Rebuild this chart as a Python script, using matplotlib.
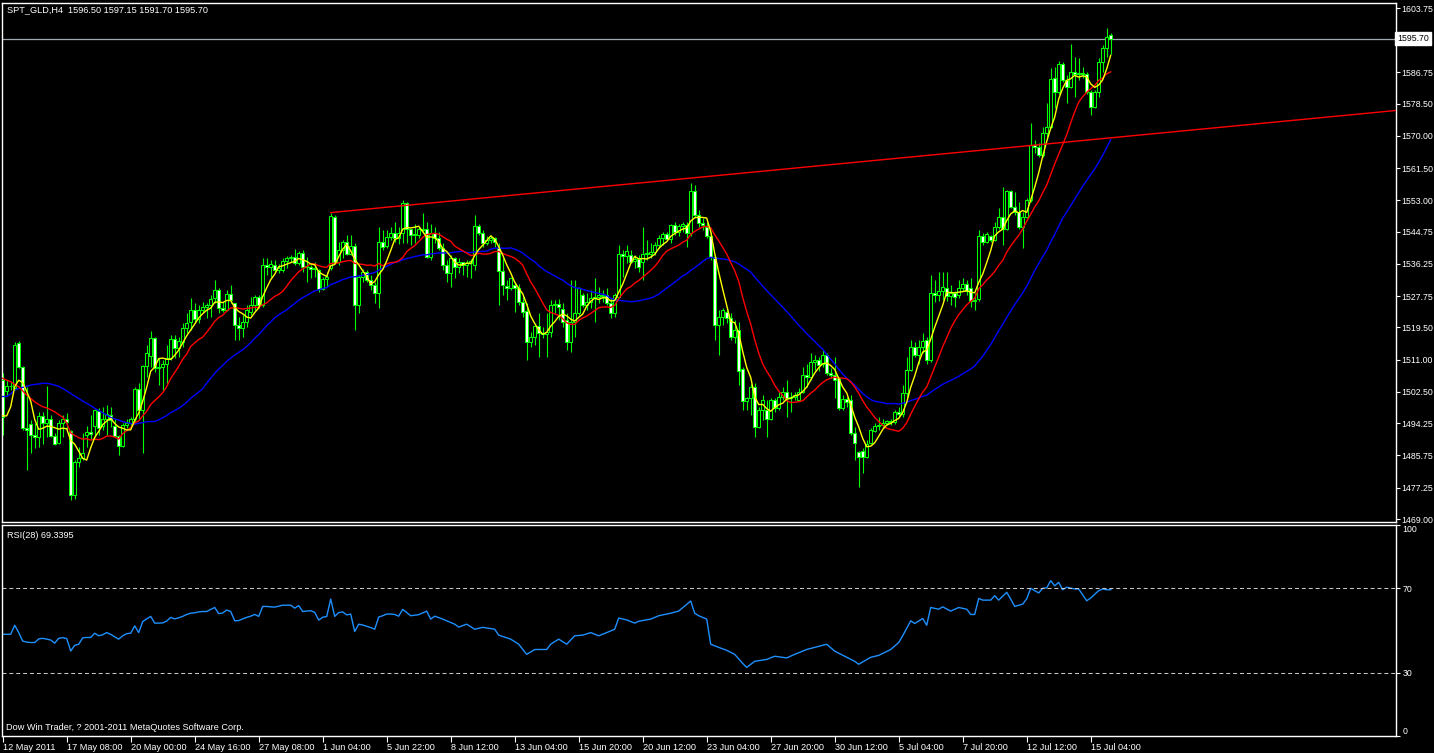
import numpy as np
import matplotlib.pyplot as plt

plt.rcParams['font.family'] = ['Liberation Sans', 'DejaVu Sans']

# SPT_GLD H4 candles, 12 May - 15 Jul 2011
opens = [
    1505.6, 1502.8, 1504.1, 1503.5, 1515.3, 1509.0, 1492.9, 1494.0, 1491.1, 1490.7,
    1496.1, 1494.2, 1495.5, 1490.9, 1489.1, 1494.2, 1495.5, 1492.3, 1475.3, 1484.1,
    1485.0, 1491.1, 1492.0, 1493.4, 1497.5, 1493.4, 1495.3, 1496.5, 1493.5, 1490.9,
    1488.3, 1493.7, 1494.4, 1495.5, 1503.4, 1497.7, 1509.3, 1512.0, 1516.6, 1508.7,
    1509.0, 1510.0, 1511.4, 1516.4, 1514.0, 1515.8, 1519.3, 1521.0, 1524.1, 1521.8,
    1524.0, 1525.0, 1525.4, 1527.2, 1529.4, 1524.6, 1524.0, 1528.3, 1525.9, 1520.2,
    1519.3, 1521.0, 1523.5, 1525.4, 1527.5, 1525.4, 1535.9, 1535.5, 1536.0, 1534.7,
    1534.7, 1537.1, 1537.7, 1538.2, 1536.4, 1539.1, 1535.4, 1535.4, 1534.8, 1534.7,
    1529.6, 1532.2, 1535.1, 1548.6, 1536.9, 1539.9, 1542.1, 1539.0, 1540.9, 1525.4,
    1532.9, 1534.1, 1531.9, 1530.6, 1528.5, 1542.1, 1541.0, 1543.3, 1544.3, 1543.0,
    1544.3, 1552.2, 1545.4, 1543.9, 1543.9, 1545.6, 1545.4, 1538.0, 1544.3, 1543.0,
    1540.4, 1536.0, 1534.0, 1537.7, 1535.5, 1536.8, 1536.0, 1536.5, 1536.0, 1546.3,
    1544.5, 1541.7, 1542.6, 1543.2, 1540.4, 1534.5, 1530.4, 1529.8, 1530.7, 1530.0,
    1526.3, 1523.9, 1515.8, 1517.1, 1519.9, 1518.0, 1517.8, 1518.2, 1525.4, 1525.7,
    1524.5, 1521.5, 1515.8, 1521.0, 1523.2, 1528.1, 1525.4, 1526.3, 1527.2, 1527.5,
    1528.0, 1528.0, 1525.9, 1523.2, 1527.6, 1538.9, 1538.4, 1538.6, 1537.0, 1537.5,
    1536.9, 1538.9, 1539.0, 1539.3, 1541.2, 1543.0, 1544.2, 1542.8, 1546.5, 1544.8,
    1546.3, 1546.6, 1544.3, 1555.6, 1549.2, 1547.0, 1546.1, 1543.5, 1538.0, 1520.2,
    1522.2, 1523.7, 1521.9, 1516.9, 1518.8, 1508.5, 1500.2, 1500.8, 1503.9, 1493.3,
    1497.7, 1497.7, 1495.3, 1500.4, 1498.2, 1501.3, 1502.5, 1500.8, 1501.2, 1500.5,
    1502.6, 1507.0, 1506.5, 1510.5, 1510.8, 1510.0, 1512.2, 1507.6, 1507.0, 1506.1,
    1498.2, 1500.6, 1500.4, 1491.8, 1486.8, 1487.0, 1485.3, 1489.0, 1492.3, 1493.5,
    1493.8, 1494.4, 1494.8, 1494.5, 1497.3, 1496.6, 1502.1, 1508.3, 1514.3, 1512.2,
    1514.3, 1516.2, 1510.9, 1528.5, 1528.1, 1529.0, 1530.0, 1527.8, 1528.5, 1528.0,
    1530.0, 1531.0, 1529.8, 1526.5, 1527.0, 1543.5, 1542.1, 1543.5, 1542.6, 1546.1,
    1548.7, 1545.6, 1555.5, 1551.4, 1550.0, 1546.1, 1548.7, 1553.1, 1567.6, 1567.0,
    1565.0, 1570.7, 1572.5, 1585.2, 1581.7, 1588.9, 1584.8, 1583.0, 1587.0, 1586.3,
    1586.6, 1586.4, 1581.7, 1577.7, 1581.7, 1589.6, 1593.3, 1596.5]
highs = [
    1507.4, 1505.6, 1505.0, 1515.8, 1516.0, 1509.3, 1503.9, 1495.1, 1494.2, 1497.3,
    1497.3, 1504.1, 1496.4, 1491.6, 1495.1, 1496.4, 1496.9, 1492.5, 1484.5, 1488.1,
    1491.6, 1493.4, 1496.4, 1498.0, 1498.2, 1498.6, 1499.0, 1498.6, 1495.3, 1491.2,
    1494.2, 1495.5, 1496.0, 1503.9, 1504.8, 1509.6, 1514.9, 1518.7, 1517.1, 1511.4,
    1510.9, 1514.9, 1517.5, 1517.5, 1517.1, 1520.6, 1523.2, 1527.2, 1525.9, 1525.4,
    1526.3, 1525.9, 1528.1, 1532.0, 1529.8, 1526.3, 1529.4, 1530.7, 1526.0, 1522.4,
    1522.8, 1525.4, 1527.6, 1528.1, 1528.1, 1537.7, 1537.7, 1537.3, 1537.3, 1536.2,
    1537.7, 1538.4, 1538.6, 1540.1, 1539.8, 1539.9, 1538.2, 1536.0, 1536.9, 1534.9,
    1532.9, 1534.2, 1549.8, 1549.2, 1542.1, 1542.6, 1543.9, 1543.9, 1541.7, 1533.3,
    1534.8, 1534.7, 1533.3, 1531.5, 1546.1, 1545.2, 1545.2, 1546.1, 1547.4, 1546.0,
    1553.1, 1552.7, 1545.6, 1546.9, 1546.1, 1549.6, 1547.4, 1546.9, 1546.1, 1544.8,
    1541.7, 1537.3, 1538.6, 1538.2, 1537.7, 1536.9, 1537.3, 1537.5, 1549.2, 1546.9,
    1545.2, 1543.5, 1543.9, 1543.4, 1541.7, 1537.7, 1532.0, 1532.9, 1531.6, 1531.1,
    1528.1, 1525.9, 1518.4, 1520.6, 1523.2, 1519.7, 1523.2, 1526.7, 1526.7, 1526.9,
    1526.0, 1523.2, 1532.0, 1532.0, 1530.3, 1528.5, 1528.5, 1529.4, 1532.5, 1530.3,
    1529.4, 1529.8, 1527.2, 1528.5, 1541.2, 1539.9, 1541.2, 1539.9, 1538.6, 1538.6,
    1546.1, 1542.6, 1541.7, 1542.1, 1543.9, 1544.8, 1544.8, 1546.9, 1547.4, 1546.9,
    1547.4, 1547.4, 1557.5, 1557.1, 1550.5, 1548.3, 1547.4, 1544.8, 1538.6, 1524.1,
    1524.6, 1525.0, 1523.2, 1521.5, 1521.0, 1509.2, 1501.2, 1504.5, 1504.8, 1498.6,
    1501.7, 1500.4, 1500.8, 1500.8, 1502.6, 1503.9, 1505.7, 1502.6, 1502.6, 1503.5,
    1509.2, 1510.0, 1512.7, 1512.2, 1511.8, 1513.6, 1512.7, 1508.7, 1511.8, 1506.5,
    1501.7, 1501.3, 1501.7, 1493.3, 1487.0, 1487.6, 1489.8, 1492.9, 1494.2, 1496.0,
    1495.5, 1495.1, 1495.3, 1497.7, 1498.6, 1504.3, 1511.8, 1516.2, 1515.8, 1516.2,
    1518.0, 1517.1, 1533.3, 1532.0, 1534.2, 1534.2, 1534.2, 1530.7, 1529.0, 1532.0,
    1532.5, 1532.0, 1532.5, 1528.5, 1545.2, 1544.3, 1544.6, 1543.9, 1547.4, 1550.9,
    1556.6, 1555.8, 1555.8, 1555.3, 1552.7, 1550.0, 1553.6, 1573.3, 1568.9, 1568.1,
    1572.5, 1578.6, 1587.8, 1588.3, 1589.8, 1589.6, 1586.1, 1594.2, 1590.9, 1590.5,
    1588.3, 1587.0, 1582.1, 1582.1, 1590.5, 1594.0, 1598.4, 1597.15]
lows = [
    1491.1, 1501.7, 1503.0, 1503.0, 1508.7, 1492.5, 1481.9, 1486.3, 1487.6, 1488.1,
    1488.9, 1490.7, 1490.7, 1488.5, 1488.9, 1490.7, 1492.5, 1474.0, 1474.4, 1482.8,
    1484.5, 1488.1, 1489.8, 1490.7, 1491.1, 1492.5, 1491.1, 1493.3, 1490.7, 1485.9,
    1488.1, 1492.9, 1493.3, 1494.2, 1495.1, 1486.3, 1506.5, 1509.2, 1507.8, 1504.3,
    1503.0, 1504.8, 1510.9, 1511.4, 1511.8, 1514.4, 1518.0, 1518.8, 1520.6, 1520.6,
    1523.2, 1521.9, 1522.4, 1525.9, 1523.2, 1523.7, 1523.8, 1525.9, 1516.2, 1516.2,
    1517.1, 1519.7, 1522.8, 1524.1, 1524.6, 1525.0, 1533.3, 1532.9, 1534.2, 1533.8,
    1534.2, 1535.1, 1536.9, 1536.0, 1536.0, 1534.2, 1531.6, 1532.5, 1532.9, 1528.9,
    1529.4, 1530.3, 1534.7, 1536.4, 1536.0, 1537.7, 1538.6, 1538.6, 1518.8, 1523.2,
    1531.6, 1531.6, 1529.4, 1526.0, 1524.6, 1539.9, 1540.5, 1542.6, 1542.1, 1541.5,
    1541.7, 1541.7, 1541.3, 1541.7, 1543.0, 1544.3, 1537.7, 1537.3, 1541.7, 1539.9,
    1534.7, 1531.6, 1530.3, 1532.5, 1533.8, 1533.3, 1532.9, 1532.5, 1534.7, 1543.9,
    1540.8, 1541.3, 1541.7, 1540.8, 1525.4, 1528.1, 1526.7, 1529.4, 1523.7, 1525.4,
    1522.4, 1510.9, 1514.4, 1514.9, 1511.8, 1516.6, 1511.8, 1517.1, 1523.2, 1521.5,
    1519.7, 1513.6, 1513.1, 1517.1, 1522.8, 1525.0, 1524.1, 1524.6, 1521.0, 1525.9,
    1526.3, 1525.4, 1521.9, 1522.4, 1527.2, 1532.9, 1536.4, 1536.4, 1535.1, 1534.2,
    1532.0, 1537.3, 1537.7, 1538.6, 1540.4, 1541.2, 1542.6, 1541.7, 1543.9, 1543.5,
    1544.8, 1540.8, 1543.5, 1548.7, 1546.1, 1545.2, 1543.0, 1537.3, 1516.2, 1512.3,
    1520.2, 1520.6, 1516.2, 1515.3, 1504.3, 1497.8, 1497.8, 1496.5, 1490.7, 1492.9,
    1495.0, 1490.7, 1495.1, 1497.3, 1497.7, 1500.4, 1496.0, 1497.3, 1500.4, 1500.4,
    1502.1, 1503.9, 1505.7, 1508.3, 1507.9, 1509.2, 1507.0, 1506.1, 1500.8, 1497.7,
    1497.7, 1498.6, 1491.2, 1484.6, 1477.5, 1481.0, 1485.0, 1488.8, 1492.0, 1492.5,
    1492.9, 1493.8, 1493.8, 1494.1, 1496.0, 1496.0, 1501.3, 1507.9, 1511.8, 1510.0,
    1512.7, 1510.0, 1510.5, 1526.3, 1526.5, 1526.8, 1526.5, 1525.5, 1524.8, 1527.2,
    1529.0, 1528.1, 1525.0, 1524.0, 1526.5, 1541.3, 1541.7, 1542.1, 1542.3, 1545.6,
    1541.3, 1545.2, 1550.9, 1549.2, 1545.6, 1540.4, 1548.5, 1552.7, 1565.4, 1564.5,
    1564.5, 1569.8, 1572.0, 1577.3, 1581.2, 1584.3, 1578.6, 1582.6, 1580.4, 1584.8,
    1585.2, 1581.2, 1575.5, 1577.3, 1580.4, 1587.0, 1590.9, 1591.70]
closes = [
    1496.0, 1504.1, 1504.0, 1514.9, 1509.0, 1492.9, 1492.5, 1491.1, 1490.7, 1496.1,
    1494.2, 1495.3, 1490.9, 1488.9, 1494.2, 1495.5, 1494.5, 1475.3, 1484.1, 1485.0,
    1486.3, 1492.0, 1491.5, 1497.7, 1492.9, 1495.3, 1496.7, 1495.1, 1490.9, 1488.3,
    1493.7, 1494.4, 1495.3, 1503.4, 1497.7, 1509.3, 1512.9, 1516.6, 1508.7, 1509.0,
    1510.0, 1511.4, 1516.4, 1514.0, 1516.0, 1519.3, 1520.8, 1524.1, 1521.8, 1524.0,
    1525.0, 1525.4, 1526.9, 1529.4, 1524.6, 1524.0, 1528.3, 1526.8, 1520.2, 1519.3,
    1521.0, 1524.0, 1525.4, 1527.5, 1525.4, 1535.9, 1535.5, 1536.2, 1534.7, 1535.3,
    1537.1, 1537.7, 1538.2, 1536.4, 1539.1, 1535.4, 1535.6, 1534.8, 1535.3, 1529.6,
    1532.2, 1532.9, 1548.9, 1536.9, 1539.9, 1542.1, 1539.0, 1540.9, 1525.4, 1532.9,
    1534.1, 1531.9, 1530.6, 1528.5, 1542.1, 1540.8, 1543.3, 1544.3, 1543.0, 1544.3,
    1552.2, 1545.4, 1543.9, 1543.9, 1545.6, 1545.2, 1538.0, 1544.3, 1543.0, 1540.4,
    1536.0, 1534.0, 1537.7, 1535.5, 1536.8, 1536.0, 1536.5, 1537.0, 1546.3, 1544.5,
    1541.7, 1542.6, 1543.2, 1542.0, 1534.5, 1530.7, 1529.8, 1532.5, 1529.8, 1526.3,
    1523.7, 1515.8, 1517.1, 1519.9, 1518.0, 1517.8, 1518.2, 1525.4, 1525.7, 1525.0,
    1521.0, 1515.8, 1521.0, 1523.2, 1529.8, 1525.4, 1526.3, 1527.2, 1527.5, 1528.0,
    1527.8, 1526.0, 1523.2, 1528.1, 1538.9, 1538.4, 1539.6, 1536.9, 1537.5, 1535.5,
    1538.9, 1539.0, 1539.4, 1541.2, 1543.0, 1544.2, 1542.8, 1546.5, 1544.8, 1546.3,
    1546.8, 1544.3, 1555.6, 1549.2, 1547.0, 1546.5, 1543.5, 1538.0, 1520.2, 1522.2,
    1524.1, 1521.9, 1516.9, 1518.8, 1508.1, 1500.2, 1500.8, 1503.9, 1493.3, 1497.7,
    1500.4, 1495.3, 1500.4, 1498.2, 1501.3, 1502.5, 1500.8, 1501.2, 1501.6, 1502.6,
    1507.0, 1506.5, 1510.5, 1510.8, 1509.7, 1512.2, 1507.6, 1507.0, 1505.6, 1498.2,
    1500.6, 1499.8, 1491.8, 1489.0, 1485.3, 1485.3, 1488.9, 1492.5, 1493.5, 1493.8,
    1494.4, 1494.8, 1494.5, 1497.3, 1496.6, 1502.1, 1508.3, 1514.3, 1512.2, 1514.3,
    1516.0, 1510.9, 1528.5, 1528.1, 1529.0, 1530.3, 1527.8, 1528.5, 1527.5, 1530.0,
    1531.0, 1529.0, 1526.5, 1526.8, 1543.5, 1542.1, 1544.1, 1542.6, 1546.1, 1548.7,
    1545.6, 1555.5, 1551.4, 1550.0, 1546.1, 1548.7, 1553.1, 1567.6, 1567.0, 1565.0,
    1570.7, 1572.5, 1585.0, 1581.7, 1588.9, 1584.8, 1583.0, 1587.0, 1586.3, 1586.6,
    1586.4, 1581.7, 1577.7, 1581.7, 1589.6, 1593.3, 1596.2, 1595.7]

# moving averages at the left edge (their windows reach back before the first bar)
yellow_start = [1496.2, 1496.2, 1498.6, 1503.9]
red_start = [1506.1, 1505.6, 1505.2, 1504.5, 1503.9, 1502.8, 1501.7, 1500.8, 1499.9,
             1499.2, 1498.6, 1498.3]
blue_start = [1501.3, 1501.3, 1502.0, 1503.0, 1503.4, 1503.7, 1504.0, 1504.3, 1504.5,
              1504.6, 1504.8, 1504.8, 1504.6, 1504.3, 1504.0, 1503.4, 1502.8, 1502.1,
              1501.4, 1500.8, 1500.1, 1499.5, 1498.9, 1498.2, 1497.6, 1497.0, 1496.4,
              1495.8, 1495.4, 1495.1, 1494.7, 1494.4, 1494.2, 1494.0]

# RSI(28): bar index -> value
rsi_bars = list(range(0, 100)) + [
    100, 102, 104, 106, 107, 108, 110, 113, 114, 116, 118, 120, 123, 124, 127, 129,
    131, 133, 136, 137, 139, 141, 143, 145, 147, 149, 151, 153, 154, 156, 158, 159,
    162, 164, 167, 169, 172, 173, 174, 176, 177, 179, 181, 183, 185, 186, 188, 191,
    193, 196, 198, 201, 203, 206, 208, 211, 213, 214, 217, 219, 222, 224, 225, 226,
    227, 228, 230, 231, 232, 234, 235, 237, 239, 241, 242, 243, 244, 245, 247, 248,
    249, 251, 252, 253, 255, 256, 257, 259, 260, 261, 262, 263, 264, 265, 266, 268,
    269, 271, 272, 274, 275, 276, 277]
rsi_vals = [
    48.2, 48.2, 48.2, 52.5, 49.0, 45.0, 44.5, 44.3, 44.3, 46.0,
    46.3, 45.9, 45.5, 44.0, 46.3, 46.6, 46.2, 40.3, 43.0, 43.5,
    46.5, 46.7, 46.7, 48.7, 47.5, 48.0, 49.0, 48.2, 47.0, 45.9,
    47.5, 48.5, 48.7, 52.2, 49.0, 54.2, 55.5, 56.7, 53.5, 53.5,
    53.6, 54.5, 56.2, 55.5, 56.0, 56.7, 57.6, 58.2, 58.4, 58.8,
    59.0, 59.0, 60.0, 60.9, 58.0, 58.3, 59.7, 59.0, 54.6, 54.7,
    55.5, 56.2, 56.8, 57.6, 56.7, 61.4, 61.4, 61.2, 61.1, 61.5,
    62.0, 62.0, 62.0, 60.6, 61.8, 59.0, 59.2, 59.4, 58.6, 54.9,
    56.3, 56.6, 64.9, 56.7, 58.5, 58.8, 57.4, 57.8, 49.5, 53.0,
    52.6, 52.0, 51.4, 50.6, 56.4, 57.0, 57.8, 57.8, 57.6, 56.8,
    60.0, 57.0, 57.5, 59.2, 55.4, 56.8, 55.4, 53.0, 51.6, 53.0, 50.6, 51.5, 50.6, 47.8, 45.9, 43.5,
    38.7, 41.0, 41.0, 43.5, 45.9, 43.5, 47.5, 47.8, 49.0, 47.5, 49.0, 50.6, 55.9, 55.0, 53.5, 54.4,
    55.4, 57.0, 58.2, 59.2, 64.0, 58.2, 57.0, 55.4, 43.5, 42.0, 40.6, 38.7, 34.4, 32.5, 35.4, 36.3,
    37.8, 37.0, 38.7, 41.0, 42.0, 43.5, 40.2, 37.3, 35.4, 34.0, 37.3, 38.2, 41.0, 44.3, 47.5, 51.0,
    54.6, 53.3, 55.7, 52.5, 60.9, 60.1, 61.2, 59.2, 60.9, 60.1, 57.6, 57.6, 65.2, 64.4, 64.4, 66.5,
    64.4, 68.1, 64.9, 61.4, 62.5, 65.0, 70.0, 67.8, 70.0, 70.2, 73.6, 71.2, 72.8, 69.3, 70.5, 69.7,
    69.7, 64.1, 65.4, 68.9, 69.7, 69.3, 69.34]

price_ticks = [1469.00, 1477.25, 1485.75, 1494.25, 1502.50, 1511.00, 1519.50, 1527.75,
               1536.25, 1544.75, 1553.00, 1561.50, 1570.00, 1578.50, 1586.75, 1603.75]
time_labels = ['12 May 2011', '17 May 08:00', '20 May 00:00', '24 May 16:00', '27 May 08:00',
               '1 Jun 04:00', '5 Jun 22:00', '8 Jun 12:00', '13 Jun 04:00', '15 Jun 20:00',
               '20 Jun 12:00', '23 Jun 04:00', '27 Jun 20:00', '30 Jun 12:00', '5 Jul 04:00',
               '7 Jul 20:00', '12 Jul 12:00', '15 Jul 04:00']
trend_bars = [82, 172]
trend_prices = [1549.8, 1558.9]
last_price = 1595.70

o = np.array(opens)
h = np.array(highs)
l = np.array(lows)
c = np.array(closes)
n = len(c)
x = np.arange(n)


def sma(a, p, start):
    out = np.array([a[max(0, i - p + 1):i + 1].mean() for i in range(len(a))])
    out[:len(start)] = start
    return out


W, H = 1434, 753
fs = 6.6
fig = plt.figure(figsize=(W / 100, H / 100), dpi=100, facecolor='black')
ax = fig.add_axes([2 / W, 1 - 522 / H, 1394 / W, 519 / H])
ax2 = fig.add_axes([2 / W, 1 - 736 / H, 1394 / W, 211 / H])

xmax = (1396 - 2.7) / 4
for a in (ax, ax2):
    a.set_facecolor('black')
    for s in a.spines.values():
        s.set_color('white')
        s.set_linewidth(1)
    a.set_xlim(-0.175, xmax)

# candles
lime = '#00ff00'
ax.vlines(x, np.minimum(l, np.minimum(o, c)), np.maximum(h, np.maximum(o, c)),
          color=lime, lw=0.8, zorder=2)
up = c >= o
lo = np.minimum(o, c)
bh = np.maximum(np.abs(c - o), 0.2)
ax.bar(x[up], bh[up], bottom=lo[up], width=0.68, color='black',
       edgecolor=lime, linewidth=0.75, zorder=3)
ax.bar(x[~up], bh[~up], bottom=lo[~up], width=0.68, color='white',
       edgecolor=lime, linewidth=0.75, zorder=3)

# moving averages 5 / 13 / 34
ax.plot(x, sma(c, 34, blue_start), color='#0000ff', lw=1, zorder=4)
ax.plot(x, sma(c, 13, red_start), color='#ff0000', lw=1, zorder=4)
ax.plot(x, sma(c, 5, yellow_start), color='#ffff00', lw=1, zorder=4)

# trend line (ray to the right)
slope = (trend_prices[1] - trend_prices[0]) / (trend_bars[1] - trend_bars[0])
ax.plot([trend_bars[0], xmax], [trend_prices[0], trend_prices[0] + slope * (xmax - trend_bars[0])],
        color='#ff0000', lw=1, zorder=4)

ax.axhline(last_price, color='#a0a8b0', lw=0.9, zorder=1)

ax.set_ylim(1468.21, 1605.07)
ax.set_xticks([])
ax.yaxis.tick_right()
ax.set_yticks(price_ticks)
ax.set_yticklabels(['%.2f' % v for v in price_ticks])
ax.tick_params(axis='y', colors='white', labelsize=fs - 0.3, length=3, width=0.8, pad=1)
ax.text(1.0008, last_price, '%.2f' % last_price, transform=ax.get_yaxis_transform(),
        ha='left', va='center', fontsize=fs - 0.3, color='black',
        bbox=dict(facecolor='white', edgecolor='white', pad=1.2))

# RSI window
ax2.plot(rsi_bars, rsi_vals, color='#1e90ff', lw=1)
for lev in (30, 70):
    ax2.axhline(lev, color='#c8c8c8', lw=0.75, ls=(0, (3.8, 2.8)))
ax2.set_ylim(0, 100)
ax2.yaxis.tick_right()
ax2.set_yticks([0, 30, 70, 100])
ax2.set_yticklabels(['0', '30', '70', '100'])
ax2.tick_params(axis='y', colors='white', labelsize=fs - 0.3, length=3, width=0.8, pad=1.5)
yl = ax2.get_yticklabels()
yl[0].set_va('bottom')
yl[3].set_va('top')

ax2.set_xticks(np.arange(len(time_labels)) * 16)
ax2.set_xticklabels(time_labels)
ax2.tick_params(axis='x', colors='white', labelsize=fs, length=4, width=0.8, pad=1)
for t in ax2.get_xticklabels():
    t.set_ha('left')

fig.text(7 / W, 1 - 10 / H, 'SPT_GLD,H4  1596.50 1597.15 1591.70 1595.70',
         color='white', fontsize=fs, va='center')
fig.text(7 / W, 1 - 535 / H, 'RSI(28) 69.3395', color='white', fontsize=fs, va='center')
fig.text(6 / W, 1 - 727 / H, 'Dow Win Trader, ? 2001-2011 MetaQuotes Software Corp.',
         color='white', fontsize=fs, va='center')

fig.savefig('out.png', dpi=100, facecolor='black')
